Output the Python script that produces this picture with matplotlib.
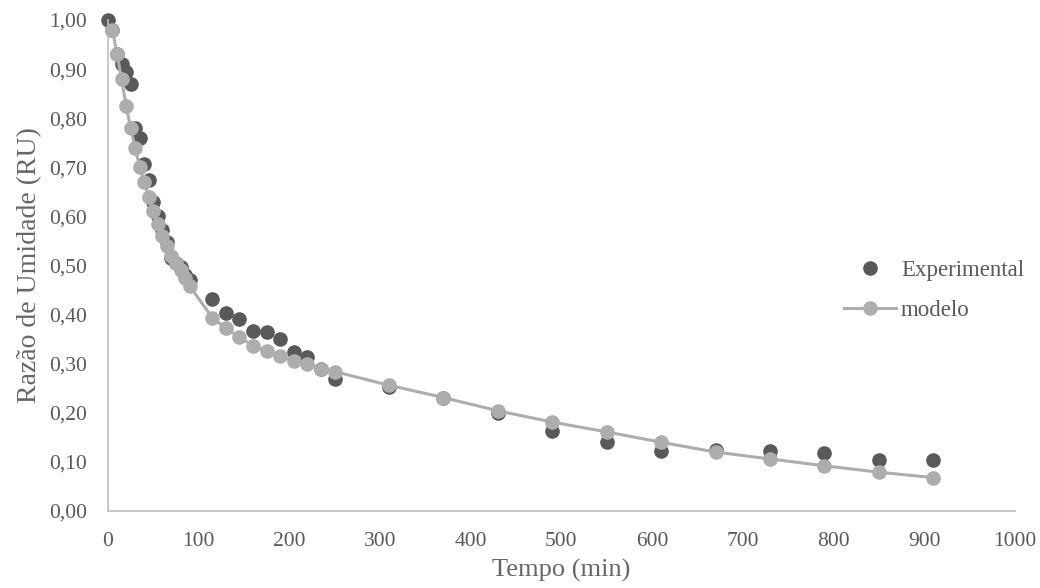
import matplotlib
matplotlib.use("Agg")
import matplotlib.pyplot as plt
from matplotlib.ticker import FuncFormatter

nan = float('nan')

# tempo (min)
tempo = [0, 5, 10, 15, 20, 25, 30, 35, 40, 45, 50, 55, 60, 65, 70, 75, 80, 85, 90,
         115, 130, 145, 160, 175, 190, 205, 220, 235, 250,
         310, 370, 430, 490, 550, 610, 670, 730, 790, 850, 910]

experimental = [1.00, 0.98, 0.93, 0.91, 0.895, 0.87, 0.78, 0.76, 0.707, 0.675, 0.63, 0.60,
                0.573, 0.547, 0.516, 0.506, 0.496, 0.48, 0.47,
                0.431, 0.404, 0.392, 0.366, 0.364, 0.35, 0.323, 0.313, 0.29, 0.268,
                0.253, 0.231, 0.199, 0.162, 0.140, 0.123, 0.125, 0.123, 0.118, 0.103, 0.103]

modelo = [nan, 0.98, 0.93, 0.88, 0.825, 0.78, 0.74, 0.70, 0.67, 0.64, 0.61, 0.585,
          0.56, 0.54, 0.52, 0.505, 0.49, 0.475, 0.458,
          0.394, 0.372, 0.354, 0.337, 0.325, 0.315, 0.305, 0.299, 0.29, 0.284,
          0.256, 0.231, 0.204, 0.181, 0.161, 0.140, 0.120, 0.106, 0.092, 0.079, 0.068]

plt.rcParams['font.family'] = ['Liberation Serif', 'DejaVu Serif']

fig = plt.figure(figsize=(10.4, 5.88), dpi=100)
ax = fig.add_axes([0.1038, 0.131, 0.872, 0.835])

ax.plot(tempo, experimental, 'o', color='#595959', markersize=9.5, label='Experimental',
        zorder=2, clip_on=False)
ax.plot(tempo, modelo, '-o', color='#ADADAD', markersize=9.5, linewidth=2.2, label='modelo',
        zorder=3, clip_on=False)

ax.set_xlim(0, 1000)
ax.set_ylim(0, 1.0)
ax.set_xticks(range(0, 1001, 100))
ax.set_yticks([i / 10 for i in range(11)])
ax.yaxis.set_major_formatter(FuncFormatter(lambda v, p: f"{v:.2f}".replace('.', ',')))
ax.tick_params(length=0, labelsize=15.5, colors='#595959')
ax.tick_params(axis='y', pad=15)
ax.tick_params(axis='x', pad=15)

for s in ['top', 'right']:
    ax.spines[s].set_visible(False)
for s in ['left', 'bottom']:
    ax.spines[s].set_color('#BFBFBF')
    ax.spines[s].set_linewidth(1.2)

ax.set_xlabel('Tempo (min)', fontsize=19, color='#666666', labelpad=6)
ax.set_ylabel('Razão de Umidade (RU)', fontsize=20, color='#666666', labelpad=5)

leg = fig.legend(loc='center left', bbox_to_anchor=(0.7915, 0.506), frameon=False,
                 fontsize=16.5, handlelength=2.3, labelspacing=0.85, handletextpad=0.2)
for t in leg.get_texts():
    t.set_color('#595959')

fig.savefig('out.png', dpi=100)
